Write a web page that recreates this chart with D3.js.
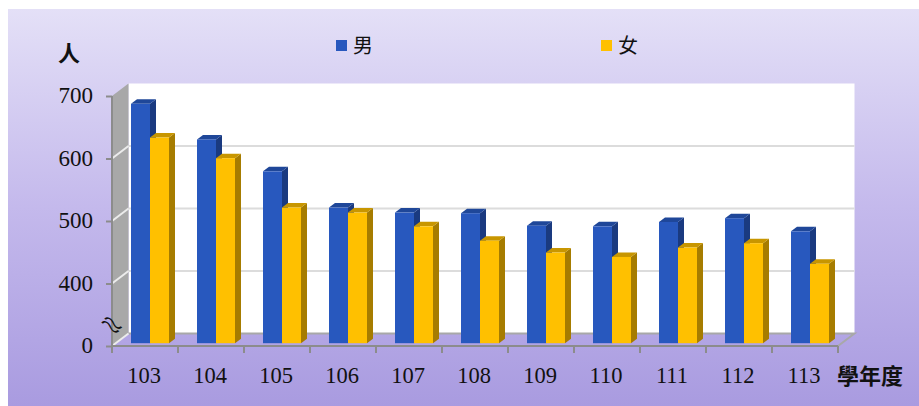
<!DOCTYPE html>
<html>
<head>
<meta charset="utf-8">
<script src="https://cdn.jsdelivr.net/npm/d3@7"></script>
<style>
  html, body { margin: 0; padding: 0; background: #fff; }
  svg { display: block; }
  text { fill: #111; }
  .num { font-family: "Liberation Serif", serif; }
  .cjk { font-family: "Noto Sans CJK TC", sans-serif; }
</style>
</head>
<body>
<svg id="chart" width="919" height="406"></svg>
<script>
const years = ["103", "104", "105", "106", "107", "108", "109", "110", "111", "112", "113"];
const male = [683, 626, 575, 517, 509, 508, 488, 487, 494, 500, 479];
const female = [629, 596, 517, 509, 487, 464, 445, 438, 453, 460, 427];
const seriesNames = ["男", "女"];
const yTicks = [0, 400, 500, 600, 700];
const gridTicks = [400, 500, 600];

const svg = d3.select("#chart");

// panel gradient
const grad = svg.append("defs").append("linearGradient")
  .attr("id", "bg").attr("x1", 0).attr("y1", 0).attr("x2", 0).attr("y2", 1);
grad.append("stop").attr("offset", "0%").attr("stop-color", "#e4e0f7");
grad.append("stop").attr("offset", "50%").attr("stop-color", "#c4b9ec");
grad.append("stop").attr("offset", "100%").attr("stop-color", "#a99be0");
svg.append("rect").attr("x", 8).attr("y", 9).attr("width", 911).attr("height", 397).attr("fill", "url(#bg)");

// scales, axis break between 0 and 400
const y = d3.scaleLinear().domain([0, 400, 700]).range([346, 283.5, 96]);
const x = d3.scaleBand().domain(years).range([112, 838]);
const x1 = d3.scaleBand().domain(seriesNames).range([14, 52]);
const colors = {
  "男": { front: "#2858be", side: "#1a3a80", top: "#1f4799" },
  "女": { front: "#ffc000", side: "#a67c00", top: "#c89600" }
};

// 3d offsets
const wallDx = 16.5, wallDy = -12.5;
const barDx = 6, barDy = -4.5;
const shiftX = 5, shiftY = -2.8;
const line = d3.line();
const poly = pts => line(pts) + "Z";

const x0 = x.range()[0], x9 = x.range()[1];

// back wall
svg.append("path")
  .attr("d", poly([[x0 + wallDx, y(700) + wallDy], [x9 + wallDx, y(700) + wallDy], [x9 + wallDx, y(0) + wallDy], [x0 + wallDx, y(0) + wallDy]]))
  .attr("fill", "#fff");

// left wall
svg.append("path")
  .attr("d", poly([[x0, y(700)], [x0 + wallDx, y(700) + wallDy], [x0 + wallDx, y(0) + wallDy], [x0, y(0)]]))
  .attr("fill", "#a8a8a8");

// floor edges, the floor itself shows the panel through
svg.append("path")
  .attr("d", line([[x0 + wallDx, y(0) + wallDy], [x9 + wallDx, y(0) + wallDy], [x9, y(0)]]))
  .attr("fill", "none").attr("stroke", "#a8a8a8").attr("stroke-width", 2);

// gridlines
gridTicks.forEach(t => {
  svg.append("path")
    .attr("d", line([[x0 + wallDx, y(t) + wallDy], [x9 + wallDx, y(t) + wallDy]]))
    .attr("fill", "none").attr("stroke", "#dcdcdc").attr("stroke-width", 2);
  svg.append("path")
    .attr("d", line([[x0, y(t)], [x0 + wallDx, y(t) + wallDy]]))
    .attr("fill", "none").attr("stroke", "#ececec").attr("stroke-width", 2);
});
svg.append("path")
  .attr("d", line([[x0, y(0)], [x0 + wallDx, y(0) + wallDy]]))
  .attr("fill", "none").attr("stroke", "#ececec").attr("stroke-width", 2);

// axes
const yAxis = svg.append("g").attr("transform", `translate(${x0},0)`)
  .call(d3.axisLeft(y).tickValues(yTicks).tickSize(6).tickPadding(13));
yAxis.select(".domain").remove();
yAxis.selectAll("line").attr("stroke", "#8c8c8c").attr("stroke-width", 2);
yAxis.selectAll("text").attr("class", "num").attr("font-size", 23).attr("dy", "0.3em");

svg.append("path")
  .attr("d", line([[x0, y(700)], [x0, y(0)], [x9, y(0)]]))
  .attr("fill", "none").attr("stroke", "#8c8c8c").attr("stroke-width", 2);

const xAxis = svg.append("g").attr("transform", `translate(-1,${y(0)})`)
  .call(d3.axisBottom(x).tickSize(0).tickPadding(21));
xAxis.select(".domain").remove();
xAxis.selectAll("text").attr("class", "num").attr("font-size", 22.5);

// category ticks sit on the band edges
svg.append("g").selectAll("line")
  .data(years.concat("end"))
  .join("line")
  .attr("x1", d => d === "end" ? x9 : x(d))
  .attr("x2", d => d === "end" ? x9 : x(d))
  .attr("y1", y(0))
  .attr("y2", y(0) + 7)
  .attr("stroke", "#8c8c8c")
  .attr("stroke-width", 2);

// bars
const rows = years.map((yr, i) => ({ yr, values: [male[i], female[i]] }));
const groups = svg.append("g").selectAll("g")
  .data(rows)
  .join("g")
  .attr("transform", d => `translate(${x(d.yr) + shiftX},${shiftY})`);

groups.each(function (row) {
  const g = d3.select(this);
  row.values.forEach((v, i) => {
    const name = seriesNames[i];
    const c = colors[name];
    const l = x1(name), r = l + x1.bandwidth(), t = y(v), b = y(0);
    g.append("path")
      .attr("d", poly([[r, t], [r + barDx, t + barDy], [r + barDx, b + barDy], [r, b]]))
      .attr("fill", c.side);
    g.append("path")
      .attr("d", poly([[l, t], [l + barDx, t + barDy], [r + barDx, t + barDy], [r, t]]))
      .attr("fill", c.top);
    g.append("rect")
      .attr("x", l).attr("y", t)
      .attr("width", x1.bandwidth()).attr("height", b - t)
      .attr("fill", c.front);
  });
});

// axis break mark
svg.append("text")
  .attr("class", "num")
  .attr("transform", "translate(112,325) rotate(38) scale(1.35,0.8)")
  .attr("text-anchor", "middle").attr("dy", "0.33em")
  .attr("font-size", 30)
  .text("≈");

// legend
const legendX = d3.scaleOrdinal().domain(seriesNames).range([336, 601]);
const legend = svg.append("g").selectAll("g")
  .data(seriesNames)
  .join("g")
  .attr("transform", d => `translate(${legendX(d)},40)`);
legend.append("rect").attr("width", 11).attr("height", 11).attr("fill", d => colors[d].front);
legend.append("text")
  .attr("class", "cjk")
  .attr("x", 17).attr("y", 13)
  .attr("font-size", 20)
  .text(d => d);

// axis titles
svg.append("text").attr("class", "cjk")
  .attr("x", 58).attr("y", 61)
  .attr("font-size", 22).attr("font-weight", 700)
  .text("人");
svg.append("text").attr("class", "cjk")
  .attr("x", 837).attr("y", 384)
  .attr("font-size", 22).attr("font-weight", 700)
  .text("學年度");
</script>
</body>
</html>
